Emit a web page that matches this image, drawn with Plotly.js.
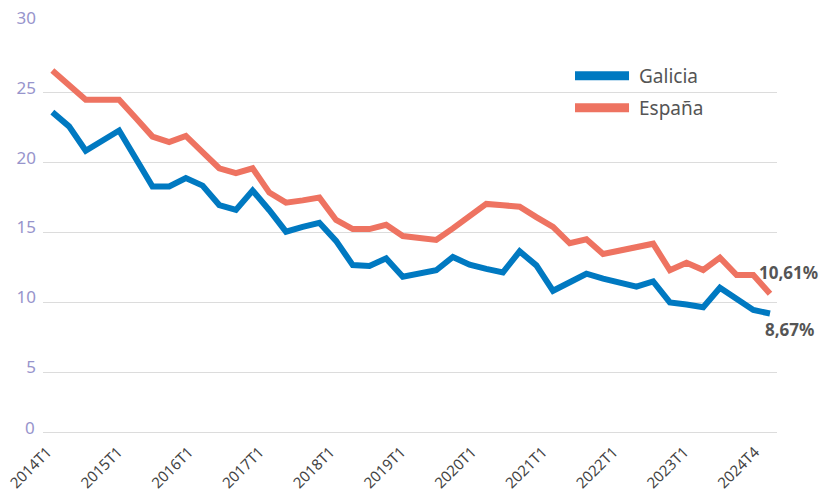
<!DOCTYPE html>
<html>
<head>
<meta charset="utf-8">
<script src="https://cdn.plot.ly/plotly-3.0.1.min.js"></script>
<style>html,body{margin:0;padding:0;background:#fff;}#chart{width:819px;height:495px;}</style>
</head>
<body>
<div id="chart"></div>
<script>
// Quarterly periods 2014T1 .. 2024T4
const years = [2014,2015,2016,2017,2018,2019,2020,2021,2022,2023,2024];
const quarters = ['T1','T2','T3','T4'];
const periods = [];
years.forEach(y => quarters.forEach(q => periods.push(y + q)));

const tickLabels = ['2014T1','2015T1','2016T1','2017T1','2018T1','2019T1','2020T1','2021T1','2022T1','2023T1','2024T4'];

const seriesNames = ['Galicia','España'];
const galicia = [23.62,22.6,20.85,21.6,22.3,20.3,18.3,18.3,18.9,18.36,16.97,16.62,
  18.0,16.6,15.06,15.4,15.7,14.4,12.67,12.6,13.15,11.84,12.05,12.3,
  13.25,12.7,12.4,12.15,13.65,12.65,10.83,11.45,12.05,11.7,11.4,11.12,
  11.5,10.0,9.85,9.65,11.05,10.3,9.45,9.2];
const espana = [26.6,25.55,24.5,24.5,24.5,23.2,21.87,21.47,21.92,20.75,19.6,19.25,
  19.6,17.86,17.14,17.3,17.5,15.9,15.25,15.25,15.55,14.75,14.6,14.47,
  15.3,16.2,17.05,16.95,16.85,16.1,15.4,14.23,14.52,13.46,13.7,13.95,
  14.2,12.3,12.84,12.32,13.2,11.96,11.96,10.61];

const lastLabels = ['8,67%','10,61%'];

const idx = periods.map((_, i) => i);
const n = periods.length;
const tickStart = -0.3, tickSpan = 42.4;
const tickvals = tickLabels.map((_, k) => tickStart + k * tickSpan / (tickLabels.length - 1));

const yTickVals = [5,10,15,20,25,30];

const FONT = '"Noto Sans", "Open Sans", sans-serif';
const COLORS = ['#0079c1', '#ee7361'];

const traces = [
  {x: idx, y: galicia, name: seriesNames[0], type: 'scatter', mode: 'lines',
   line: {color: COLORS[0], width: 6}, text: periods, hoverinfo: 'text+y'},
  {x: idx, y: espana, name: seriesNames[1], type: 'scatter', mode: 'lines',
   line: {color: COLORS[1], width: 6}, text: periods, hoverinfo: 'text+y'}
];

// manual legend (long swatches like the reference)
const legY = [0.871, 0.7926];
const shapes = seriesNames.map((s, i) => ({
  type: 'line', xref: 'paper', yref: 'paper',
  x0: 0.7248, x1: 0.7984, y0: legY[i], y1: legY[i],
  line: {color: COLORS[i], width: 9}
}));
const legendAnn = seriesNames.map((s, i) => ({
  xref: 'paper', yref: 'paper', x: 0.8093, y: legY[i], text: s,
  showarrow: false, xanchor: 'left', yanchor: 'middle',
  font: {size: 19, color: '#555', family: FONT}
}));

const layout = {
  width: 819, height: 495,
  margin: {l: 43, r: 42, t: 23, b: 63},
  paper_bgcolor: '#fff', plot_bgcolor: '#fff',
  font: {family: FONT, color: '#444'},
  showlegend: false,
  xaxis: {
    range: [-0.56, n - 1 + 0.42],
    tickmode: 'array', tickvals: tickvals, ticktext: tickLabels,
    tickangle: -45, showgrid: false, zeroline: false,
    showline: true, linecolor: '#dcdcdc', linewidth: 1.3,
    ticks: '', tickfont: {size: 15, color: '#444', family: FONT},
    ticklabelstandoff: 4
  },
  yaxis: {
    range: [0.72, 30],
    tickmode: 'array', tickvals: yTickVals,
    showgrid: true, gridcolor: '#dcdcdc', gridwidth: 1.3,
    zeroline: false, showline: false, ticks: '',
    tickfont: {size: 17, color: '#9794cc', family: FONT},
    ticklabelstandoff: 6, ticklabelshift: -5
  },
  shapes: shapes,
  annotations: legendAnn.concat([
    {xref: 'paper', yref: 'paper', x: 0, y: 0, text: '0', showarrow: false,
     xanchor: 'right', yanchor: 'middle', xshift: -6, yshift: 5,
     font: {size: 17, color: '#9794cc', family: FONT}},
    {x: n - 1, y: espana[n - 1], xref: 'x', yref: 'y', text: '<b>' + lastLabels[1] + '</b>',
     showarrow: false, xanchor: 'center', yanchor: 'middle', xshift: 19, yshift: 21,
     font: {size: 17, color: '#555', family: FONT}},
    {x: n - 1, y: galicia[n - 1], xref: 'x', yref: 'y', text: '<b>' + lastLabels[0] + '</b>',
     showarrow: false, xanchor: 'center', yanchor: 'middle', xshift: 20, yshift: -16,
     font: {size: 17, color: '#555', family: FONT}}
  ])
};

Plotly.newPlot('chart', traces, layout, {displayModeBar: false, staticPlot: true});
</script>
</body>
</html>
